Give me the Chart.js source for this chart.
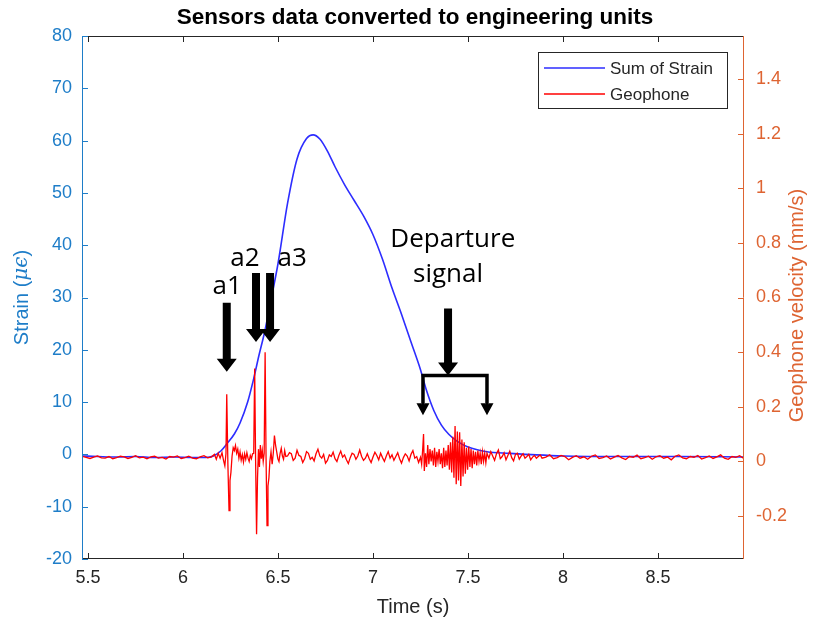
<!DOCTYPE html>
<html>
<head>
<meta charset="utf-8">
<title>Sensors data converted to engineering units</title>
<script src="https://cdn.jsdelivr.net/npm/chart.js@4.4.1/dist/chart.umd.min.js"></script>
<style>
  html, body { margin: 0; padding: 0; background: #fff; }
  canvas { display: block; }
</style>
</head>
<body>
<canvas id="sensorChart" width="820" height="623"></canvas>
<script>
const titleText = "Sensors data converted to engineering units";
const timeLabel = "Time (s)";
const strainLabel = ["Strain (", "μϵ", ")"];
const geoLabel = "Geophone velocity (mm/s)";
const seriesNames = ["Sum of Strain", "Geophone"];

const timeTicks = [5.5, 6, 6.5, 7, 7.5, 8, 8.5];
const strainTicks = [-20, -10, 0, 10, 20, 30, 40, 50, 60, 70, 80];
const geoTicks = [-0.2, 0, 0.2, 0.4, 0.6, 0.8, 1, 1.2, 1.4];

// [time (s), strain (με)]
const strainSeries = [
  [5.47, -0.3], [5.55, -0.4], [5.65, -0.5], [5.75, -0.4], [5.85, -0.6], [5.95, -0.5],
  [6.05, -0.6], [6.12, -0.6], [6.16, -0.3], [6.20, 0.7], [6.23, 2.0], [6.27, 3.9],
  [6.30, 6.0], [6.34, 10.0], [6.37, 14.2], [6.40, 19.0], [6.43, 23.5], [6.46, 29.0],
  [6.50, 36.5], [6.55, 48.0], [6.60, 56.5], [6.65, 60.4], [6.685, 61.1], [6.72, 60.3],
  [6.76, 58.0], [6.80, 55.0], [6.85, 51.6], [6.90, 48.6], [6.95, 45.6], [7.00, 42.0],
  [7.05, 37.3], [7.10, 31.8], [7.15, 26.8], [7.20, 21.5], [7.25, 16.2], [7.28, 12.4],
  [7.32, 8.4], [7.36, 5.6], [7.40, 3.8], [7.44, 2.6], [7.50, 1.4], [7.60, 0.5],
  [7.72, 0.2], [7.86, -0.1], [8.00, -0.3], [8.30, -0.4], [8.60, -0.4], [8.95, -0.5]
];

// [time (s), velocity (mm/s)]
const geophoneSeries = [
  [5.47, 0.019], [5.49, 0.015], [5.51, 0.011], [5.53, 0.016], [5.55, 0.020], [5.57, 0.013],
  [5.59, 0.012], [5.61, 0.018], [5.63, 0.010], [5.65, 0.014], [5.67, 0.019], [5.69, 0.017],
  [5.71, 0.011], [5.73, 0.015], [5.75, 0.021], [5.77, 0.013], [5.79, 0.016], [5.81, 0.010],
  [5.83, 0.017], [5.85, 0.019], [5.87, 0.012], [5.89, 0.015], [5.91, 0.009], [5.93, 0.018],
  [5.95, 0.016], [5.97, 0.020], [5.99, 0.011], [6.01, 0.014], [6.03, 0.019], [6.05, 0.012],
  [6.07, 0.010], [6.09, 0.017], [6.11, 0.021], [6.13, 0.013], [6.15, 0.017],
  [6.165, 0.026], [6.175, 0.008], [6.185, 0.030], [6.195, 0.012], [6.205, 0.032], [6.213, 0.004],
  [6.220, -0.016], [6.226, 0.030], [6.230, 0.246], [6.236, -0.010], [6.242, -0.180], [6.247, -0.070],
  [6.252, -0.040], [6.258, 0.020], [6.264, 0.050], [6.270, 0.040], [6.276, 0.058], [6.282, 0.030],
  [6.288, 0.045], [6.294, 0.012], [6.300, 0.035], [6.306, 0.005], [6.312, 0.025], [6.318, -0.002],
  [6.324, 0.028], [6.330, 0.008], [6.336, 0.032], [6.342, 0.012], [6.348, 0.000], [6.354, 0.022],
  [6.360, 0.010], [6.366, 0.028], [6.372, 0.030], [6.377, 0.340], [6.382, 0.000], [6.387, -0.266],
  [6.392, -0.060], [6.397, 0.045], [6.402, -0.020], [6.407, 0.060], [6.412, 0.010], [6.417, 0.040],
  [6.422, 0.000], [6.427, 0.030], [6.432, 0.400], [6.437, 0.010], [6.442, -0.235], [6.447, -0.090],
  [6.452, -0.060], [6.457, 0.000], [6.463, 0.035], [6.469, -0.010], [6.475, 0.030], [6.481, 0.095],
  [6.487, 0.060], [6.493, 0.035], [6.499, 0.010], [6.505, 0.000], [6.511, 0.030], [6.517, 0.048],
  [6.523, 0.020], [6.529, 0.008], [6.535, 0.040], [6.541, 0.018],
  [6.55, 0.020], [6.56, 0.032], [6.57, 0.028], [6.58, 0.004], [6.59, 0.012], [6.60, 0.041],
  [6.61, 0.022], [6.62, 0.018], [6.63, -0.004], [6.64, 0.010], [6.65, 0.036], [6.66, 0.030],
  [6.67, 0.008], [6.68, 0.015], [6.69, 0.002], [6.70, 0.028], [6.71, 0.045], [6.72, 0.020],
  [6.73, 0.012], [6.74, 0.026], [6.75, -0.006], [6.76, 0.004], [6.77, 0.024], [6.78, 0.018],
  [6.79, 0.034], [6.80, 0.010], [6.81, 0.000], [6.82, 0.022], [6.83, 0.038], [6.84, 0.016],
  [6.85, 0.024], [6.86, 0.006], [6.87, -0.008], [6.88, 0.014], [6.89, 0.030], [6.90, 0.026],
  [6.91, 0.008], [6.92, 0.020], [6.93, 0.042], [6.94, 0.018], [6.95, 0.004], [6.96, 0.012],
  [6.97, 0.028], [6.98, 0.010], [6.99, -0.004], [7.00, 0.016], [7.01, 0.034], [7.02, 0.022],
  [7.03, 0.006], [7.04, 0.030], [7.05, 0.014], [7.06, 0.000], [7.07, 0.020], [7.08, 0.036],
  [7.09, 0.012], [7.10, 0.024], [7.11, 0.004], [7.12, 0.018], [7.13, 0.032], [7.14, 0.010],
  [7.15, -0.006], [7.16, 0.014], [7.17, 0.028], [7.18, 0.020], [7.19, 0.002], [7.20, 0.026],
  [7.21, 0.040], [7.22, 0.012], [7.23, 0.018], [7.24, -0.004], [7.25, 0.015],
  [7.256, -0.010], [7.262, 0.050], [7.266, 0.100], [7.270, -0.035], [7.276, 0.030], [7.282, -0.020],
  [7.288, 0.060], [7.294, -0.010], [7.300, 0.045], [7.306, 0.000], [7.312, 0.040], [7.318, -0.015],
  [7.324, 0.050], [7.330, -0.020], [7.336, 0.035], [7.342, 0.000], [7.348, 0.045], [7.354, -0.010],
  [7.360, 0.030], [7.366, -0.025], [7.372, 0.050], [7.378, -0.020], [7.384, 0.040], [7.390, -0.015],
  [7.396, 0.060], [7.402, -0.030], [7.408, 0.070], [7.414, -0.040], [7.420, 0.090], [7.426, -0.060],
  [7.432, 0.130], [7.438, -0.083], [7.444, 0.110], [7.450, -0.070], [7.456, 0.107], [7.462, -0.090],
  [7.468, 0.080], [7.474, -0.055], [7.480, 0.070], [7.486, -0.045], [7.492, 0.050], [7.498, -0.030],
  [7.504, 0.055], [7.510, -0.020], [7.516, 0.045], [7.522, -0.025], [7.528, 0.040], [7.534, -0.010],
  [7.540, 0.035], [7.546, -0.015], [7.552, 0.040], [7.558, 0.000], [7.564, 0.030], [7.570, -0.010],
  [7.576, 0.035], [7.582, 0.000], [7.588, 0.030], [7.594, -0.005], [7.600, 0.030],
  [7.61, 0.012], [7.62, 0.036], [7.63, 0.020], [7.64, 0.004], [7.65, 0.028], [7.66, 0.042],
  [7.67, 0.010], [7.68, 0.018], [7.69, 0.032], [7.70, 0.006], [7.71, 0.022], [7.72, 0.038],
  [7.73, 0.014], [7.74, 0.002], [7.75, 0.026], [7.76, 0.030], [7.77, 0.008], [7.78, 0.020],
  [7.79, 0.028], [7.80, 0.012], [7.81, 0.018], [7.82, 0.026], [7.83, 0.006], [7.84, 0.016],
  [7.85, 0.022], [7.86, 0.012], [7.87, 0.018], [7.88, 0.024], [7.89, 0.012],
  [7.91, 0.016], [7.93, 0.024], [7.95, 0.010], [7.97, 0.014], [7.99, 0.022], [8.01, 0.018],
  [8.03, 0.006], [8.05, 0.015], [8.07, 0.021], [8.09, 0.012], [8.11, 0.017], [8.13, 0.008],
  [8.15, 0.019], [8.17, 0.024], [8.19, 0.011], [8.21, 0.014], [8.23, 0.020], [8.25, 0.009],
  [8.27, 0.016], [8.29, 0.022], [8.31, 0.013], [8.33, 0.007], [8.35, 0.018], [8.37, 0.015],
  [8.39, 0.023], [8.41, 0.010], [8.43, 0.014], [8.45, 0.019], [8.47, 0.008], [8.49, 0.017],
  [8.51, 0.021], [8.53, 0.012], [8.55, 0.016], [8.57, 0.006], [8.59, 0.019], [8.61, 0.024],
  [8.63, 0.013], [8.65, 0.010], [8.67, 0.018], [8.69, 0.015], [8.71, 0.022], [8.73, 0.009],
  [8.75, 0.014], [8.77, 0.020], [8.79, 0.011], [8.81, 0.017], [8.83, 0.024], [8.85, 0.012],
  [8.87, 0.008], [8.89, 0.018], [8.91, 0.015], [8.93, 0.021], [8.95, 0.012]
];

// hand-drawn call-outs, placed in (time, strain) units
const calloutTexts = [
  { text: "a1", t: 6.232, s: 32.0 },
  { text: "a2", t: 6.326, s: 37.5 },
  { text: "a3", t: 6.574, s: 37.5 },
  { text: "Departure", t: 7.42, s: 41.0 },
  { text: "signal", t: 7.395, s: 34.3 }
];
const calloutArrows = [
  { t: 6.230, from: 29.0, to: 15.8 },
  { t: 6.384, from: 34.7, to: 21.5 },
  { t: 6.458, from: 34.7, to: 21.5 },
  { t: 7.395, from: 27.9, to: 15.1 }
];
const departureBracket = { from: 7.263, to: 7.600, top: 15.1, tip: 7.5 };

const BLUE = "rgb(45,45,255)";
const RED = "rgb(255,0,0)";
const LEFT_AXIS = "rgb(30,125,200)";
const RIGHT_AXIS = "rgb(222,100,50)";
const DARK = "#262626";
const FONT = '"Liberation Sans", Arial, sans-serif';

function blockArrow(ctx, x, yTop, yTip, shaftW, headW, headL) {
  ctx.beginPath();
  ctx.moveTo(x - shaftW / 2, yTop);
  ctx.lineTo(x + shaftW / 2, yTop);
  ctx.lineTo(x + shaftW / 2, yTip - headL);
  ctx.lineTo(x + headW / 2, yTip - headL);
  ctx.lineTo(x, yTip);
  ctx.lineTo(x - headW / 2, yTip - headL);
  ctx.lineTo(x - shaftW / 2, yTip - headL);
  ctx.closePath();
  ctx.fill();
}

const matlabLook = {
  id: "matlabLook",
  afterDraw(chart) {
    const ctx = chart.ctx;
    const a = chart.chartArea;
    const xs = chart.scales.x, ys = chart.scales.yStrain, yg = chart.scales.yGeo;
    ctx.save();

    // call-outs
    ctx.fillStyle = "#000";
    calloutArrows.forEach(ar => {
      blockArrow(ctx, xs.getPixelForValue(ar.t), ys.getPixelForValue(ar.from), ys.getPixelForValue(ar.to), 8, 20, 13);
    });
    const bx0 = xs.getPixelForValue(departureBracket.from);
    const bx1 = xs.getPixelForValue(departureBracket.to);
    const bTop = ys.getPixelForValue(departureBracket.top);
    const bTip = ys.getPixelForValue(departureBracket.tip);
    ctx.strokeStyle = "#000";
    ctx.lineWidth = 3.5;
    ctx.beginPath();
    ctx.moveTo(bx0, bTip - 10);
    ctx.lineTo(bx0, bTop);
    ctx.lineTo(bx1, bTop);
    ctx.lineTo(bx1, bTip - 10);
    ctx.stroke();
    blockArrow(ctx, bx0, bTip - 11, bTip, 3.5, 13, 12);
    blockArrow(ctx, bx1, bTip - 11, bTip, 3.5, 13, 12);
    ctx.font = '26px "Open Sans", "Noto Sans", sans-serif';
    ctx.textAlign = "center";
    ctx.textBaseline = "middle";
    calloutTexts.forEach(c => ctx.fillText(c.text, xs.getPixelForValue(c.t), ys.getPixelForValue(c.s)));

    // box and inward ticks
    ctx.lineWidth = 1;
    ctx.strokeStyle = DARK;
    ctx.beginPath();
    ctx.moveTo(a.left, a.top + 0.5); ctx.lineTo(a.right, a.top + 0.5);
    ctx.moveTo(a.left, a.bottom - 0.5); ctx.lineTo(a.right, a.bottom - 0.5);
    timeTicks.forEach(v => {
      const px = Math.round(xs.getPixelForValue(v)) + 0.5;
      ctx.moveTo(px, a.bottom); ctx.lineTo(px, a.bottom - 6);
      ctx.moveTo(px, a.top); ctx.lineTo(px, a.top + 6);
    });
    ctx.stroke();
    ctx.strokeStyle = LEFT_AXIS;
    ctx.beginPath();
    ctx.moveTo(a.left + 0.5, a.top); ctx.lineTo(a.left + 0.5, a.bottom);
    strainTicks.forEach(v => {
      const py = Math.round(ys.getPixelForValue(v)) + 0.5;
      ctx.moveTo(a.left, py); ctx.lineTo(a.left + 6, py);
    });
    ctx.stroke();
    ctx.strokeStyle = RIGHT_AXIS;
    ctx.beginPath();
    ctx.moveTo(a.right - 0.5, a.top); ctx.lineTo(a.right - 0.5, a.bottom);
    geoTicks.forEach(v => {
      const py = Math.round(yg.getPixelForValue(v)) + 0.5;
      ctx.moveTo(a.right, py); ctx.lineTo(a.right - 6, py);
    });
    ctx.stroke();

    // legend
    const lw = 189, lh = 56;
    const lx = a.right - 17 - lw, ly = a.top + 16;
    ctx.fillStyle = "#fff";
    ctx.fillRect(lx, ly, lw, lh);
    ctx.strokeStyle = DARK;
    ctx.strokeRect(lx + 0.5, ly + 0.5, lw, lh);
    ctx.font = "17px " + FONT;
    ctx.textAlign = "left";
    chart.data.datasets.forEach((ds, i) => {
      const cy = ly + 16 + i * 26;
      ctx.strokeStyle = ds.borderColor;
      ctx.lineWidth = 1.6;
      ctx.beginPath();
      ctx.moveTo(lx + 6, cy); ctx.lineTo(lx + 67, cy);
      ctx.stroke();
      ctx.fillStyle = DARK;
      ctx.fillText(ds.label, lx + 72, cy + 1);
    });

    // titles
    const cx = (a.left + a.right) / 2, cy = (a.top + a.bottom) / 2;
    ctx.fillStyle = "#000";
    ctx.textAlign = "center";
    ctx.font = "bold 22.5px " + FONT;
    ctx.fillText(titleText, cx + 2, 18);
    ctx.fillStyle = DARK;
    ctx.font = "20px " + FONT;
    ctx.fillText(timeLabel, cx, 607);

    ctx.save();
    ctx.translate(797, cy + 8);
    ctx.rotate(-Math.PI / 2);
    ctx.fillStyle = RIGHT_AXIS;
    ctx.fillText(geoLabel, 0, 0);
    ctx.restore();

    ctx.save();
    ctx.translate(22, cy);
    ctx.rotate(-Math.PI / 2);
    ctx.fillStyle = LEFT_AXIS;
    const fonts = ["20px " + FONT, "italic 20px \"DejaVu Serif\", serif", "20px " + FONT];
    const widths = strainLabel.map((s, i) => { ctx.font = fonts[i]; return ctx.measureText(s).width; });
    let x0 = -widths.reduce((p, q) => p + q, 0) / 2;
    ctx.textAlign = "left";
    strainLabel.forEach((s, i) => { ctx.font = fonts[i]; ctx.fillText(s, x0, 0); x0 += widths[i]; });
    ctx.restore();

    ctx.restore();
  }
};

const tickFont = { family: FONT, size: 18 };

new Chart(document.getElementById("sensorChart"), {
  type: "line",
  data: {
    datasets: [
      {
        label: seriesNames[0],
        data: strainSeries.map(([t, v]) => ({ x: t, y: v })),
        yAxisID: "yStrain",
        borderColor: BLUE,
        borderWidth: 1.6,
        pointRadius: 0,
        cubicInterpolationMode: "monotone",
        order: 2
      },
      {
        label: seriesNames[1],
        data: geophoneSeries.map(([t, v]) => ({ x: t, y: v })),
        yAxisID: "yGeo",
        borderColor: RED,
        borderWidth: 1.3,
        pointRadius: 0,
        tension: 0,
        order: 1
      }
    ]
  },
  options: {
    responsive: false,
    animation: false,
    layout: { padding: { top: 36 } },
    plugins: { legend: { display: false }, tooltip: { enabled: false }, title: { display: false } },
    scales: {
      x: {
        type: "linear",
        min: 5.468,
        max: 8.953,
        afterBuildTicks: s => { s.ticks = timeTicks.map(v => ({ value: v })); },
        afterFit: s => { s.height = 64; },
        grid: { display: false, drawTicks: false },
        border: { display: false },
        ticks: { color: DARK, font: tickFont, padding: 8, maxRotation: 0, autoSkip: false, callback: v => String(v) }
      },
      yStrain: {
        position: "left",
        min: -20,
        max: 80,
        afterBuildTicks: s => { s.ticks = strainTicks.map(v => ({ value: v })); },
        afterFit: s => { s.width = 82; },
        grid: { display: false, drawTicks: false },
        border: { display: false },
        ticks: { color: LEFT_AXIS, font: tickFont, padding: 10, autoSkip: false, callback: v => String(v) }
      },
      yGeo: {
        position: "right",
        min: -0.357,
        max: 1.557,
        afterBuildTicks: s => { s.ticks = geoTicks.map(v => ({ value: v })); },
        afterFit: s => { s.width = 76; },
        grid: { display: false, drawTicks: false },
        border: { display: false },
        ticks: { color: RIGHT_AXIS, font: tickFont, padding: 12, autoSkip: false, callback: v => String(v) }
      }
    }
  },
  plugins: [matlabLook]
});
</script>
</body>
</html>
